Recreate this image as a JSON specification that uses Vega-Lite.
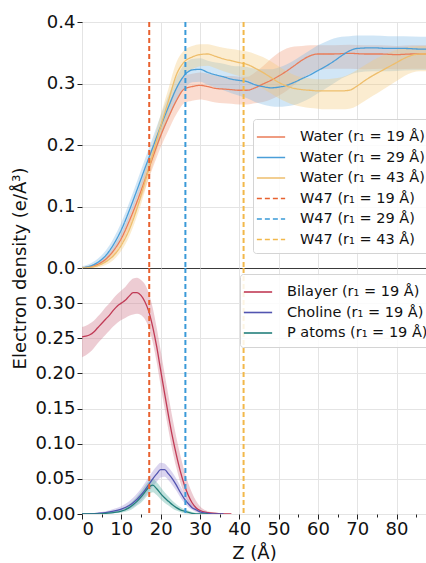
{
  "$schema": "https://vega.github.io/schema/vega-lite/v6.json",
  "autosize": {"type": "pad"},
  "padding": {"left": 10, "top": 12, "right": 0, "bottom": 0},
  "background": "white",
  "bounds": "flush",
  "config": {
    "font": "DejaVu Sans",
    "view": {"stroke": "#3a3a3a", "strokeWidth": 1},
    "axis": {"labelFont": "DejaVu Sans", "labelFontSize": 18, "labelColor": "#111", "tickColor": "#222", "tickSize": 5, "domain": false, "gridColor": "#e4e4e4", "titleFont": "DejaVu Sans", "titleFontSize": 18, "titleFontWeight": "normal", "titleColor": "#111"},
    "legend": {"labelFont": "DejaVu Sans", "labelFontSize": 14.5, "labelColor": "#111", "labelLimit": 400, "fillColor": "rgba(255,255,255,0.85)", "strokeColor": "#d4d4d4", "cornerRadius": 3, "padding": 7, "rowPadding": 2.5, "symbolType": "M-1.45,0H1.45", "symbolSize": 380, "symbolStrokeWidth": 1.6, "labelOffset": 18}
  },
  "datasets": {
    "water": [
      {"z":0,"series":"Water (r₁ = 19 Å)","m":0.000,"lo":0.000,"hi":0.002},
      {"z":2,"series":"Water (r₁ = 19 Å)","m":0.002,"lo":0.000,"hi":0.004},
      {"z":4,"series":"Water (r₁ = 19 Å)","m":0.006,"lo":0.003,"hi":0.009},
      {"z":6,"series":"Water (r₁ = 19 Å)","m":0.014,"lo":0.009,"hi":0.019},
      {"z":8,"series":"Water (r₁ = 19 Å)","m":0.028,"lo":0.021,"hi":0.035},
      {"z":10,"series":"Water (r₁ = 19 Å)","m":0.048,"lo":0.039,"hi":0.057},
      {"z":12,"series":"Water (r₁ = 19 Å)","m":0.076,"lo":0.065,"hi":0.087},
      {"z":14,"series":"Water (r₁ = 19 Å)","m":0.108,"lo":0.095,"hi":0.121},
      {"z":16,"series":"Water (r₁ = 19 Å)","m":0.143,"lo":0.128,"hi":0.158},
      {"z":18,"series":"Water (r₁ = 19 Å)","m":0.180,"lo":0.163,"hi":0.197},
      {"z":20,"series":"Water (r₁ = 19 Å)","m":0.215,"lo":0.196,"hi":0.234},
      {"z":22,"series":"Water (r₁ = 19 Å)","m":0.245,"lo":0.224,"hi":0.266},
      {"z":24,"series":"Water (r₁ = 19 Å)","m":0.272,"lo":0.250,"hi":0.294},
      {"z":26,"series":"Water (r₁ = 19 Å)","m":0.291,"lo":0.268,"hi":0.312},
      {"z":28,"series":"Water (r₁ = 19 Å)","m":0.295,"lo":0.272,"hi":0.316},
      {"z":30,"series":"Water (r₁ = 19 Å)","m":0.297,"lo":0.274,"hi":0.318},
      {"z":32,"series":"Water (r₁ = 19 Å)","m":0.295,"lo":0.272,"hi":0.316},
      {"z":34,"series":"Water (r₁ = 19 Å)","m":0.292,"lo":0.269,"hi":0.313},
      {"z":36,"series":"Water (r₁ = 19 Å)","m":0.291,"lo":0.268,"hi":0.312},
      {"z":38,"series":"Water (r₁ = 19 Å)","m":0.290,"lo":0.267,"hi":0.312},
      {"z":40,"series":"Water (r₁ = 19 Å)","m":0.289,"lo":0.266,"hi":0.311},
      {"z":42,"series":"Water (r₁ = 19 Å)","m":0.289,"lo":0.266,"hi":0.311},
      {"z":44,"series":"Water (r₁ = 19 Å)","m":0.293,"lo":0.268,"hi":0.318},
      {"z":46,"series":"Water (r₁ = 19 Å)","m":0.299,"lo":0.270,"hi":0.328},
      {"z":48,"series":"Water (r₁ = 19 Å)","m":0.305,"lo":0.274,"hi":0.340},
      {"z":50,"series":"Water (r₁ = 19 Å)","m":0.312,"lo":0.280,"hi":0.350},
      {"z":52,"series":"Water (r₁ = 19 Å)","m":0.320,"lo":0.288,"hi":0.357},
      {"z":54,"series":"Water (r₁ = 19 Å)","m":0.329,"lo":0.298,"hi":0.360},
      {"z":56,"series":"Water (r₁ = 19 Å)","m":0.338,"lo":0.308,"hi":0.361},
      {"z":58,"series":"Water (r₁ = 19 Å)","m":0.345,"lo":0.316,"hi":0.362},
      {"z":60,"series":"Water (r₁ = 19 Å)","m":0.348,"lo":0.322,"hi":0.362},
      {"z":64,"series":"Water (r₁ = 19 Å)","m":0.348,"lo":0.324,"hi":0.362},
      {"z":68,"series":"Water (r₁ = 19 Å)","m":0.349,"lo":0.324,"hi":0.363},
      {"z":72,"series":"Water (r₁ = 19 Å)","m":0.348,"lo":0.323,"hi":0.362},
      {"z":76,"series":"Water (r₁ = 19 Å)","m":0.348,"lo":0.324,"hi":0.362},
      {"z":80,"series":"Water (r₁ = 19 Å)","m":0.347,"lo":0.323,"hi":0.361},
      {"z":84,"series":"Water (r₁ = 19 Å)","m":0.348,"lo":0.324,"hi":0.362},
      {"z":88,"series":"Water (r₁ = 19 Å)","m":0.348,"lo":0.324,"hi":0.362},

      {"z":0,"series":"Water  (r₁ = 29 Å)","m":0.000,"lo":0.000,"hi":0.003},
      {"z":2,"series":"Water  (r₁ = 29 Å)","m":0.003,"lo":0.000,"hi":0.007},
      {"z":4,"series":"Water  (r₁ = 29 Å)","m":0.009,"lo":0.004,"hi":0.015},
      {"z":6,"series":"Water  (r₁ = 29 Å)","m":0.020,"lo":0.012,"hi":0.028},
      {"z":8,"series":"Water  (r₁ = 29 Å)","m":0.038,"lo":0.028,"hi":0.048},
      {"z":10,"series":"Water  (r₁ = 29 Å)","m":0.062,"lo":0.050,"hi":0.074},
      {"z":12,"series":"Water  (r₁ = 29 Å)","m":0.093,"lo":0.080,"hi":0.106},
      {"z":14,"series":"Water  (r₁ = 29 Å)","m":0.127,"lo":0.113,"hi":0.141},
      {"z":16,"series":"Water  (r₁ = 29 Å)","m":0.162,"lo":0.147,"hi":0.177},
      {"z":18,"series":"Water  (r₁ = 29 Å)","m":0.196,"lo":0.180,"hi":0.212},
      {"z":20,"series":"Water  (r₁ = 29 Å)","m":0.230,"lo":0.212,"hi":0.248},
      {"z":22,"series":"Water  (r₁ = 29 Å)","m":0.262,"lo":0.243,"hi":0.281},
      {"z":24,"series":"Water  (r₁ = 29 Å)","m":0.292,"lo":0.271,"hi":0.310},
      {"z":26,"series":"Water  (r₁ = 29 Å)","m":0.313,"lo":0.292,"hi":0.331},
      {"z":28,"series":"Water  (r₁ = 29 Å)","m":0.322,"lo":0.302,"hi":0.340},
      {"z":30,"series":"Water  (r₁ = 29 Å)","m":0.323,"lo":0.303,"hi":0.341},
      {"z":32,"series":"Water  (r₁ = 29 Å)","m":0.318,"lo":0.298,"hi":0.337},
      {"z":34,"series":"Water  (r₁ = 29 Å)","m":0.314,"lo":0.293,"hi":0.334},
      {"z":36,"series":"Water  (r₁ = 29 Å)","m":0.311,"lo":0.289,"hi":0.332},
      {"z":38,"series":"Water  (r₁ = 29 Å)","m":0.307,"lo":0.284,"hi":0.329},
      {"z":40,"series":"Water  (r₁ = 29 Å)","m":0.305,"lo":0.280,"hi":0.328},
      {"z":42,"series":"Water  (r₁ = 29 Å)","m":0.303,"lo":0.276,"hi":0.327},
      {"z":44,"series":"Water  (r₁ = 29 Å)","m":0.298,"lo":0.270,"hi":0.324},
      {"z":46,"series":"Water  (r₁ = 29 Å)","m":0.295,"lo":0.266,"hi":0.323},
      {"z":48,"series":"Water  (r₁ = 29 Å)","m":0.293,"lo":0.263,"hi":0.323},
      {"z":50,"series":"Water  (r₁ = 29 Å)","m":0.294,"lo":0.262,"hi":0.326},
      {"z":52,"series":"Water  (r₁ = 29 Å)","m":0.297,"lo":0.263,"hi":0.331},
      {"z":54,"series":"Water  (r₁ = 29 Å)","m":0.302,"lo":0.265,"hi":0.338},
      {"z":56,"series":"Water  (r₁ = 29 Å)","m":0.308,"lo":0.270,"hi":0.346},
      {"z":58,"series":"Water  (r₁ = 29 Å)","m":0.314,"lo":0.276,"hi":0.354},
      {"z":60,"series":"Water  (r₁ = 29 Å)","m":0.321,"lo":0.284,"hi":0.362},
      {"z":62,"series":"Water  (r₁ = 29 Å)","m":0.328,"lo":0.292,"hi":0.368},
      {"z":64,"series":"Water  (r₁ = 29 Å)","m":0.336,"lo":0.300,"hi":0.373},
      {"z":66,"series":"Water  (r₁ = 29 Å)","m":0.345,"lo":0.308,"hi":0.376},
      {"z":68,"series":"Water  (r₁ = 29 Å)","m":0.353,"lo":0.314,"hi":0.377},
      {"z":70,"series":"Water  (r₁ = 29 Å)","m":0.357,"lo":0.318,"hi":0.378},
      {"z":74,"series":"Water  (r₁ = 29 Å)","m":0.358,"lo":0.320,"hi":0.378},
      {"z":78,"series":"Water  (r₁ = 29 Å)","m":0.357,"lo":0.320,"hi":0.377},
      {"z":82,"series":"Water  (r₁ = 29 Å)","m":0.357,"lo":0.321,"hi":0.377},
      {"z":86,"series":"Water  (r₁ = 29 Å)","m":0.356,"lo":0.322,"hi":0.376},
      {"z":88,"series":"Water  (r₁ = 29 Å)","m":0.356,"lo":0.322,"hi":0.376},

      {"z":0,"series":"Water  (r₁ = 43 Å)","m":0.000,"lo":0.000,"hi":0.002},
      {"z":2,"series":"Water  (r₁ = 43 Å)","m":0.001,"lo":0.000,"hi":0.003},
      {"z":4,"series":"Water  (r₁ = 43 Å)","m":0.004,"lo":0.001,"hi":0.007},
      {"z":6,"series":"Water  (r₁ = 43 Å)","m":0.010,"lo":0.005,"hi":0.015},
      {"z":8,"series":"Water  (r₁ = 43 Å)","m":0.020,"lo":0.013,"hi":0.027},
      {"z":10,"series":"Water  (r₁ = 43 Å)","m":0.037,"lo":0.028,"hi":0.046},
      {"z":12,"series":"Water  (r₁ = 43 Å)","m":0.062,"lo":0.051,"hi":0.073},
      {"z":14,"series":"Water  (r₁ = 43 Å)","m":0.097,"lo":0.084,"hi":0.110},
      {"z":16,"series":"Water  (r₁ = 43 Å)","m":0.140,"lo":0.125,"hi":0.155},
      {"z":18,"series":"Water  (r₁ = 43 Å)","m":0.185,"lo":0.168,"hi":0.202},
      {"z":20,"series":"Water  (r₁ = 43 Å)","m":0.230,"lo":0.211,"hi":0.249},
      {"z":22,"series":"Water  (r₁ = 43 Å)","m":0.272,"lo":0.252,"hi":0.292},
      {"z":24,"series":"Water  (r₁ = 43 Å)","m":0.314,"lo":0.293,"hi":0.334},
      {"z":26,"series":"Water  (r₁ = 43 Å)","m":0.335,"lo":0.314,"hi":0.354},
      {"z":28,"series":"Water  (r₁ = 43 Å)","m":0.343,"lo":0.323,"hi":0.361},
      {"z":30,"series":"Water  (r₁ = 43 Å)","m":0.347,"lo":0.328,"hi":0.364},
      {"z":32,"series":"Water  (r₁ = 43 Å)","m":0.348,"lo":0.329,"hi":0.364},
      {"z":34,"series":"Water  (r₁ = 43 Å)","m":0.344,"lo":0.325,"hi":0.361},
      {"z":36,"series":"Water  (r₁ = 43 Å)","m":0.340,"lo":0.320,"hi":0.358},
      {"z":38,"series":"Water  (r₁ = 43 Å)","m":0.337,"lo":0.316,"hi":0.356},
      {"z":40,"series":"Water  (r₁ = 43 Å)","m":0.334,"lo":0.312,"hi":0.354},
      {"z":42,"series":"Water  (r₁ = 43 Å)","m":0.331,"lo":0.307,"hi":0.352},
      {"z":44,"series":"Water  (r₁ = 43 Å)","m":0.325,"lo":0.300,"hi":0.348},
      {"z":46,"series":"Water  (r₁ = 43 Å)","m":0.318,"lo":0.292,"hi":0.343},
      {"z":48,"series":"Water  (r₁ = 43 Å)","m":0.310,"lo":0.284,"hi":0.336},
      {"z":50,"series":"Water  (r₁ = 43 Å)","m":0.302,"lo":0.276,"hi":0.328},
      {"z":52,"series":"Water  (r₁ = 43 Å)","m":0.296,"lo":0.270,"hi":0.320},
      {"z":54,"series":"Water  (r₁ = 43 Å)","m":0.292,"lo":0.265,"hi":0.314},
      {"z":56,"series":"Water  (r₁ = 43 Å)","m":0.290,"lo":0.262,"hi":0.310},
      {"z":58,"series":"Water  (r₁ = 43 Å)","m":0.289,"lo":0.260,"hi":0.308},
      {"z":60,"series":"Water  (r₁ = 43 Å)","m":0.288,"lo":0.259,"hi":0.307},
      {"z":62,"series":"Water  (r₁ = 43 Å)","m":0.288,"lo":0.258,"hi":0.307},
      {"z":64,"series":"Water  (r₁ = 43 Å)","m":0.288,"lo":0.258,"hi":0.308},
      {"z":66,"series":"Water  (r₁ = 43 Å)","m":0.288,"lo":0.258,"hi":0.310},
      {"z":68,"series":"Water  (r₁ = 43 Å)","m":0.289,"lo":0.259,"hi":0.315},
      {"z":70,"series":"Water  (r₁ = 43 Å)","m":0.296,"lo":0.264,"hi":0.322},
      {"z":72,"series":"Water  (r₁ = 43 Å)","m":0.305,"lo":0.272,"hi":0.330},
      {"z":74,"series":"Water  (r₁ = 43 Å)","m":0.313,"lo":0.280,"hi":0.338},
      {"z":76,"series":"Water  (r₁ = 43 Å)","m":0.320,"lo":0.288,"hi":0.344},
      {"z":78,"series":"Water  (r₁ = 43 Å)","m":0.327,"lo":0.296,"hi":0.350},
      {"z":80,"series":"Water  (r₁ = 43 Å)","m":0.334,"lo":0.304,"hi":0.355},
      {"z":82,"series":"Water  (r₁ = 43 Å)","m":0.341,"lo":0.312,"hi":0.358},
      {"z":84,"series":"Water  (r₁ = 43 Å)","m":0.346,"lo":0.318,"hi":0.360},
      {"z":86,"series":"Water  (r₁ = 43 Å)","m":0.348,"lo":0.320,"hi":0.361},
      {"z":88,"series":"Water  (r₁ = 43 Å)","m":0.348,"lo":0.320,"hi":0.361}
    ],
    "w47": [
      {"z":17.1,"series":"W47 (r₁ = 19 Å)"},
      {"z":26.3,"series":"W47 (r₁ = 29 Å)"},
      {"z":41.1,"series":"W47 (r₁ = 43 Å)"}
    ],
    "lipid": [
      {"z":0,"series":"Bilayer (r₁ = 19 Å)","m":0.252,"lo":0.223,"hi":0.266},
      {"z":1,"series":"Bilayer (r₁ = 19 Å)","m":0.253,"lo":0.226,"hi":0.268},
      {"z":2,"series":"Bilayer (r₁ = 19 Å)","m":0.255,"lo":0.230,"hi":0.271},
      {"z":3,"series":"Bilayer (r₁ = 19 Å)","m":0.259,"lo":0.236,"hi":0.275},
      {"z":4,"series":"Bilayer (r₁ = 19 Å)","m":0.265,"lo":0.243,"hi":0.281},
      {"z":5,"series":"Bilayer (r₁ = 19 Å)","m":0.271,"lo":0.249,"hi":0.287},
      {"z":6,"series":"Bilayer (r₁ = 19 Å)","m":0.277,"lo":0.255,"hi":0.294},
      {"z":7,"series":"Bilayer (r₁ = 19 Å)","m":0.283,"lo":0.261,"hi":0.300},
      {"z":8,"series":"Bilayer (r₁ = 19 Å)","m":0.290,"lo":0.267,"hi":0.307},
      {"z":9,"series":"Bilayer (r₁ = 19 Å)","m":0.296,"lo":0.272,"hi":0.313},
      {"z":10,"series":"Bilayer (r₁ = 19 Å)","m":0.300,"lo":0.276,"hi":0.318},
      {"z":11,"series":"Bilayer (r₁ = 19 Å)","m":0.304,"lo":0.279,"hi":0.323},
      {"z":12,"series":"Bilayer (r₁ = 19 Å)","m":0.310,"lo":0.282,"hi":0.330},
      {"z":13,"series":"Bilayer (r₁ = 19 Å)","m":0.315,"lo":0.284,"hi":0.335},
      {"z":14,"series":"Bilayer (r₁ = 19 Å)","m":0.315,"lo":0.285,"hi":0.336},
      {"z":15,"series":"Bilayer (r₁ = 19 Å)","m":0.311,"lo":0.283,"hi":0.333},
      {"z":16,"series":"Bilayer (r₁ = 19 Å)","m":0.302,"lo":0.277,"hi":0.327},
      {"z":17,"series":"Bilayer (r₁ = 19 Å)","m":0.288,"lo":0.265,"hi":0.314},
      {"z":18,"series":"Bilayer (r₁ = 19 Å)","m":0.266,"lo":0.244,"hi":0.293},
      {"z":19,"series":"Bilayer (r₁ = 19 Å)","m":0.238,"lo":0.216,"hi":0.265},
      {"z":20,"series":"Bilayer (r₁ = 19 Å)","m":0.205,"lo":0.183,"hi":0.233},
      {"z":21,"series":"Bilayer (r₁ = 19 Å)","m":0.172,"lo":0.150,"hi":0.200},
      {"z":22,"series":"Bilayer (r₁ = 19 Å)","m":0.140,"lo":0.119,"hi":0.168},
      {"z":23,"series":"Bilayer (r₁ = 19 Å)","m":0.110,"lo":0.090,"hi":0.137},
      {"z":24,"series":"Bilayer (r₁ = 19 Å)","m":0.084,"lo":0.066,"hi":0.109},
      {"z":25,"series":"Bilayer (r₁ = 19 Å)","m":0.061,"lo":0.045,"hi":0.084},
      {"z":26,"series":"Bilayer (r₁ = 19 Å)","m":0.042,"lo":0.029,"hi":0.062},
      {"z":27,"series":"Bilayer (r₁ = 19 Å)","m":0.027,"lo":0.017,"hi":0.044},
      {"z":28,"series":"Bilayer (r₁ = 19 Å)","m":0.016,"lo":0.009,"hi":0.030},
      {"z":29,"series":"Bilayer (r₁ = 19 Å)","m":0.009,"lo":0.004,"hi":0.019},
      {"z":30,"series":"Bilayer (r₁ = 19 Å)","m":0.005,"lo":0.002,"hi":0.011},
      {"z":32,"series":"Bilayer (r₁ = 19 Å)","m":0.002,"lo":0.000,"hi":0.004},
      {"z":34,"series":"Bilayer (r₁ = 19 Å)","m":0.001,"lo":0.000,"hi":0.002},
      {"z":36,"series":"Bilayer (r₁ = 19 Å)","m":0.000,"lo":0.000,"hi":0.001},
      {"z":38,"series":"Bilayer (r₁ = 19 Å)","m":0.000,"lo":0.000,"hi":0.000},

      {"z":0,"series":"Choline (r₁ = 19 Å)","m":0.000,"lo":0.000,"hi":0.000},
      {"z":4,"series":"Choline (r₁ = 19 Å)","m":0.001,"lo":0.000,"hi":0.002},
      {"z":6,"series":"Choline (r₁ = 19 Å)","m":0.002,"lo":0.001,"hi":0.004},
      {"z":8,"series":"Choline (r₁ = 19 Å)","m":0.004,"lo":0.002,"hi":0.007},
      {"z":10,"series":"Choline (r₁ = 19 Å)","m":0.007,"lo":0.004,"hi":0.011},
      {"z":12,"series":"Choline (r₁ = 19 Å)","m":0.012,"lo":0.007,"hi":0.018},
      {"z":13,"series":"Choline (r₁ = 19 Å)","m":0.016,"lo":0.010,"hi":0.023},
      {"z":14,"series":"Choline (r₁ = 19 Å)","m":0.021,"lo":0.014,"hi":0.029},
      {"z":15,"series":"Choline (r₁ = 19 Å)","m":0.027,"lo":0.019,"hi":0.036},
      {"z":16,"series":"Choline (r₁ = 19 Å)","m":0.034,"lo":0.025,"hi":0.044},
      {"z":17,"series":"Choline (r₁ = 19 Å)","m":0.042,"lo":0.032,"hi":0.053},
      {"z":18,"series":"Choline (r₁ = 19 Å)","m":0.050,"lo":0.039,"hi":0.061},
      {"z":19,"series":"Choline (r₁ = 19 Å)","m":0.057,"lo":0.046,"hi":0.068},
      {"z":20,"series":"Choline (r₁ = 19 Å)","m":0.063,"lo":0.052,"hi":0.073},
      {"z":21,"series":"Choline (r₁ = 19 Å)","m":0.063,"lo":0.053,"hi":0.072},
      {"z":22,"series":"Choline (r₁ = 19 Å)","m":0.057,"lo":0.048,"hi":0.066},
      {"z":23,"series":"Choline (r₁ = 19 Å)","m":0.050,"lo":0.041,"hi":0.059},
      {"z":24,"series":"Choline (r₁ = 19 Å)","m":0.041,"lo":0.033,"hi":0.050},
      {"z":25,"series":"Choline (r₁ = 19 Å)","m":0.031,"lo":0.024,"hi":0.040},
      {"z":26,"series":"Choline (r₁ = 19 Å)","m":0.022,"lo":0.016,"hi":0.030},
      {"z":27,"series":"Choline (r₁ = 19 Å)","m":0.015,"lo":0.010,"hi":0.021},
      {"z":28,"series":"Choline (r₁ = 19 Å)","m":0.009,"lo":0.006,"hi":0.014},
      {"z":29,"series":"Choline (r₁ = 19 Å)","m":0.006,"lo":0.003,"hi":0.009},
      {"z":30,"series":"Choline (r₁ = 19 Å)","m":0.003,"lo":0.001,"hi":0.006},
      {"z":32,"series":"Choline (r₁ = 19 Å)","m":0.001,"lo":0.000,"hi":0.002},
      {"z":34,"series":"Choline (r₁ = 19 Å)","m":0.000,"lo":0.000,"hi":0.001},
      {"z":36,"series":"Choline (r₁ = 19 Å)","m":0.000,"lo":0.000,"hi":0.000},

      {"z":0,"series":"P atoms  (r₁ = 19 Å)","m":0.000,"lo":0.000,"hi":0.000},
      {"z":4,"series":"P atoms  (r₁ = 19 Å)","m":0.000,"lo":0.000,"hi":0.001},
      {"z":6,"series":"P atoms  (r₁ = 19 Å)","m":0.001,"lo":0.000,"hi":0.002},
      {"z":8,"series":"P atoms  (r₁ = 19 Å)","m":0.002,"lo":0.001,"hi":0.004},
      {"z":10,"series":"P atoms  (r₁ = 19 Å)","m":0.004,"lo":0.002,"hi":0.007},
      {"z":12,"series":"P atoms  (r₁ = 19 Å)","m":0.009,"lo":0.005,"hi":0.014},
      {"z":13,"series":"P atoms  (r₁ = 19 Å)","m":0.013,"lo":0.008,"hi":0.019},
      {"z":14,"series":"P atoms  (r₁ = 19 Å)","m":0.018,"lo":0.012,"hi":0.025},
      {"z":15,"series":"P atoms  (r₁ = 19 Å)","m":0.024,"lo":0.016,"hi":0.032},
      {"z":16,"series":"P atoms  (r₁ = 19 Å)","m":0.031,"lo":0.022,"hi":0.040},
      {"z":17,"series":"P atoms  (r₁ = 19 Å)","m":0.038,"lo":0.028,"hi":0.047},
      {"z":18,"series":"P atoms  (r₁ = 19 Å)","m":0.041,"lo":0.031,"hi":0.050},
      {"z":19,"series":"P atoms  (r₁ = 19 Å)","m":0.036,"lo":0.027,"hi":0.045},
      {"z":20,"series":"P atoms  (r₁ = 19 Å)","m":0.029,"lo":0.021,"hi":0.038},
      {"z":21,"series":"P atoms  (r₁ = 19 Å)","m":0.023,"lo":0.016,"hi":0.031},
      {"z":22,"series":"P atoms  (r₁ = 19 Å)","m":0.018,"lo":0.012,"hi":0.025},
      {"z":23,"series":"P atoms  (r₁ = 19 Å)","m":0.013,"lo":0.008,"hi":0.019},
      {"z":24,"series":"P atoms  (r₁ = 19 Å)","m":0.009,"lo":0.005,"hi":0.014},
      {"z":25,"series":"P atoms  (r₁ = 19 Å)","m":0.006,"lo":0.003,"hi":0.010},
      {"z":26,"series":"P atoms  (r₁ = 19 Å)","m":0.004,"lo":0.001,"hi":0.007},
      {"z":28,"series":"P atoms  (r₁ = 19 Å)","m":0.001,"lo":0.000,"hi":0.003},
      {"z":30,"series":"P atoms  (r₁ = 19 Å)","m":0.000,"lo":0.000,"hi":0.001},
      {"z":32,"series":"P atoms  (r₁ = 19 Å)","m":0.000,"lo":0.000,"hi":0.000}
    ]
  },
  "spacing": 0,
  "vconcat": [
    {
      "width": 344,
      "height": 246,
      "layer": [
        {
          "data": {"name": "water"},
          "mark": {"type": "area", "opacity": 0.35, "clip": true, "interpolate": "monotone"},
          "encoding": {
            "x": {"field": "z", "type": "quantitative", "scale": {"domain": [0, 87.5], "nice": false, "zero": false},
                  "axis": {"values": [0,10,20,30,40,50,60,70,80], "labels": false, "ticks": false, "title": null, "grid": true}},
            "y": {"field": "lo", "type": "quantitative", "scale": {"domain": [0, 0.4], "nice": false},
                  "axis": {"values": [0, 0.1, 0.2, 0.3, 0.4], "format": ".1f", "labelPadding": 2, "title": "Electron density (e/Å³)", "titleX": -62, "titleY": 246, "titleAlign": "center", "titleBaseline": "middle", "titleAngle": -90, "grid": true}},
            "y2": {"field": "hi"},
            "fill": {"field": "series", "type": "nominal", "legend": null,
                     "scale": {"domain": ["Water (r₁ = 19 Å)", "Water  (r₁ = 29 Å)", "Water  (r₁ = 43 Å)"], "range": ["#f19a78", "#7ab8e4", "#f4c979"]}}
          }
        },
        {
          "data": {"name": "water"},
          "mark": {"type": "line", "strokeWidth": 1.3, "clip": true, "interpolate": "monotone"},
          "encoding": {
            "x": {"field": "z", "type": "quantitative"},
            "y": {"field": "m", "type": "quantitative"},
            "color": {"field": "series", "type": "nominal",
                      "scale": {"domain": ["Water (r₁ = 19 Å)", "Water  (r₁ = 29 Å)", "Water  (r₁ = 43 Å)", "W47 (r₁ = 19 Å)", "W47 (r₁ = 29 Å)", "W47 (r₁ = 43 Å)"],
                                "range": ["#ea7b57", "#4a9ed8", "#eebe6c", "#e8612f", "#3a9ad8", "#f2b84b"]},
                      "legend": {"orient": "none", "legendX": 171, "legendY": 97, "title": null}},
            "strokeDash": {"field": "series", "type": "nominal",
                           "scale": {"domain": ["Water (r₁ = 19 Å)", "Water  (r₁ = 29 Å)", "Water  (r₁ = 43 Å)", "W47 (r₁ = 19 Å)", "W47 (r₁ = 29 Å)", "W47 (r₁ = 43 Å)"],
                                     "range": [[1, 0], [1, 0], [1, 0], [5, 3], [5, 3], [5, 3]]},
                           "legend": {"orient": "none", "legendX": 171, "legendY": 97, "title": null}}
          }
        },
        {
          "data": {"name": "w47"},
          "mark": {"type": "rule", "strokeWidth": 2},
          "encoding": {
            "x": {"field": "z", "type": "quantitative"},
            "color": {"field": "series", "type": "nominal"},
            "strokeDash": {"field": "series", "type": "nominal"}
          }
        }
      ]
    },
    {
      "width": 344,
      "height": 246,
      "layer": [
        {
          "data": {"name": "lipid"},
          "mark": {"type": "area", "opacity": 0.4, "clip": true, "interpolate": "monotone"},
          "encoding": {
            "x": {"field": "z", "type": "quantitative", "scale": {"domain": [0, 87.5], "nice": false, "zero": false},
                  "axis": {"values": [0,10,20,30,40,50,60,70,80], "title": "Z (Å)", "titlePadding": 6, "grid": true, "labelPadding": 1, "orient": "bottom"}},
            "y": {"field": "lo", "type": "quantitative", "scale": {"domain": [0, 0.35], "nice": false},
                  "axis": {"values": [0, 0.05, 0.1, 0.15, 0.2, 0.25, 0.3], "format": ".2f", "labelPadding": 2, "title": null, "grid": true}},
            "y2": {"field": "hi"},
            "fill": {"field": "series", "type": "nominal", "legend": null,
                     "scale": {"domain": ["Bilayer (r₁ = 19 Å)", "Choline (r₁ = 19 Å)", "P atoms  (r₁ = 19 Å)"], "range": ["#d27f92", "#a596d8", "#62b3a8"]}}
          }
        },
        {
          "data": {"name": "lipid"},
          "mark": {"type": "line", "strokeWidth": 1.3, "clip": true, "interpolate": "monotone"},
          "encoding": {
            "x": {"field": "z", "type": "quantitative",
                  "axis": {"values": [5,15,25,35,45,55,65,75,85], "orient": "bottom", "labels": false, "grid": false, "title": null, "tickSize": 3, "domain": false}},
            "y": {"field": "m", "type": "quantitative"},
            "color": {"field": "series", "type": "nominal",
                      "scale": {"domain": ["Bilayer (r₁ = 19 Å)", "Choline (r₁ = 19 Å)", "P atoms  (r₁ = 19 Å)"], "range": ["#c03a55", "#5254b0", "#23807c"]},
                      "legend": {"orient": "none", "legendX": 158, "legendY": 6, "title": null}}
          }
        },
        {
          "data": {"name": "w47"},
          "mark": {"type": "rule", "strokeWidth": 2, "strokeDash": [5, 3]},
          "encoding": {
            "x": {"field": "z", "type": "quantitative", "axis": null},
            "stroke": {"field": "series", "type": "nominal", "legend": null,
                       "scale": {"domain": ["W47 (r₁ = 19 Å)", "W47 (r₁ = 29 Å)", "W47 (r₁ = 43 Å)"], "range": ["#e8612f", "#3a9ad8", "#f2b84b"]}}
          }
        }
      ],
      "resolve": {"scale": {"color": "independent"}, "axis": {"x": "independent"}}
    }
  ],
  "resolve": {"scale": {"color": "independent", "fill": "independent", "strokeDash": "independent", "x": "shared"}}
}
